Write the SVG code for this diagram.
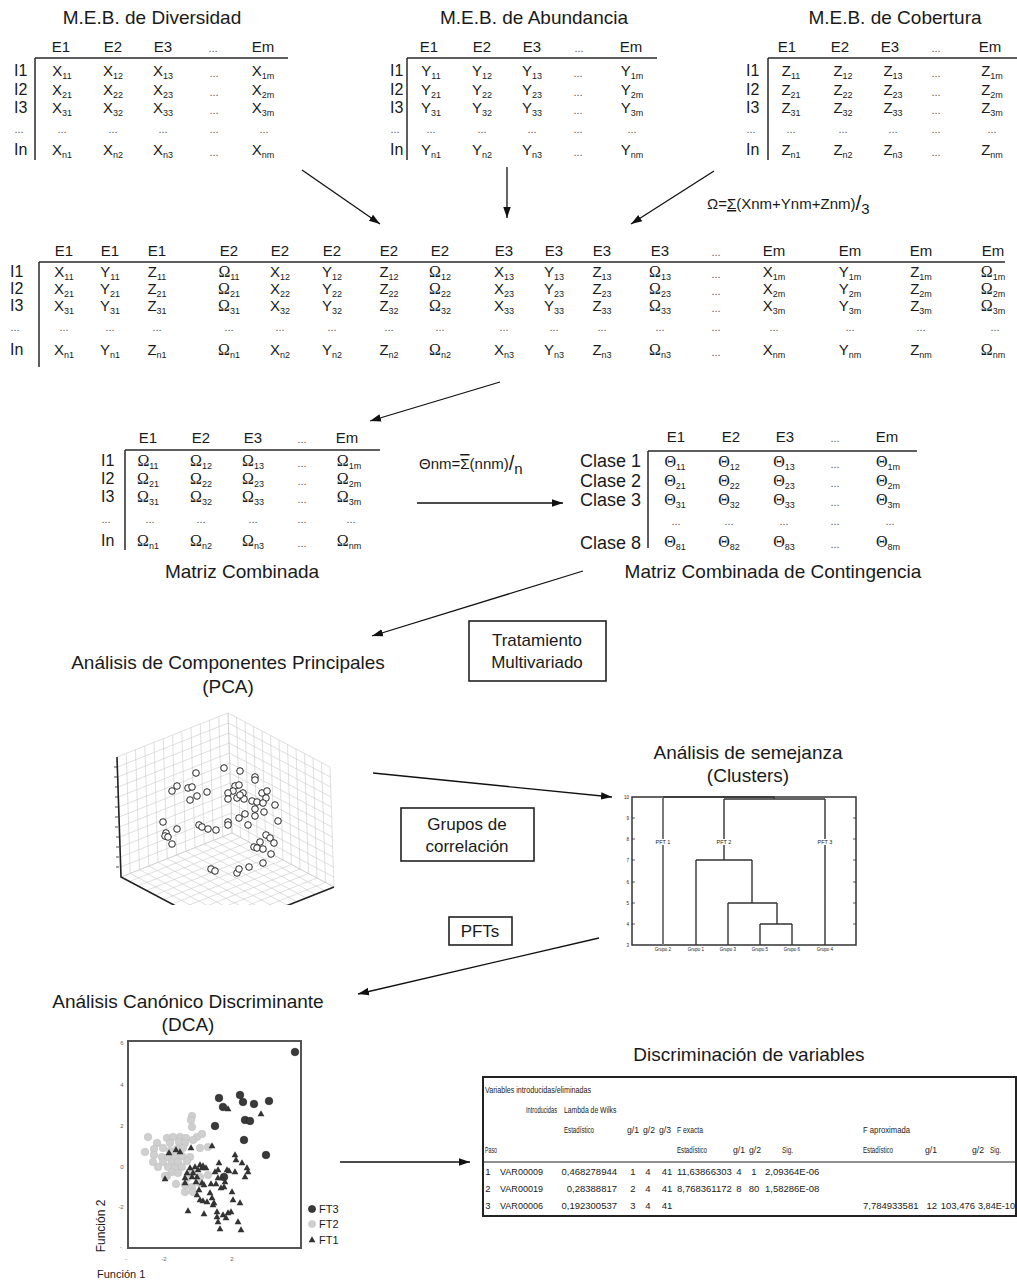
<svg xmlns="http://www.w3.org/2000/svg" width="1017" height="1283" viewBox="0 0 1017 1283">
<style>
text { font-family: "Liberation Sans", Arial, sans-serif; fill: #1a1a1a; }
.ttl { font-size: 19px; text-anchor: middle; }
.hd { font-size: 15px; text-anchor: middle; }
.rl { font-size: 16px; }
.c { font-size: 15px; text-anchor: middle; }
.g { font-family: "Liberation Serif", "Times New Roman", serif; font-size: 16px; text-anchor: middle; }
.s { font-family: "Liberation Sans", Arial, sans-serif; font-size: 9px; }
.dt { font-size: 11px; fill: #555; text-anchor: middle; }
.cl { font-size: 18px; text-anchor: end; }
.ln { stroke: #2a2a2a; stroke-width: 1.5; fill: none; }
.ar { stroke: #111; stroke-width: 1.3; fill: none; marker-end: url(#ah); }
.box { fill: #fff; stroke: #222; stroke-width: 1.6; }
.bx { font-size: 17px; text-anchor: middle; }
.pc { fill: #fff; stroke: #111; stroke-width: 0.9; }
.f2 { fill: #cfcfcf; stroke: #bcbcbc; stroke-width: 0.5; }
.f3 { fill: #3a3a3a; stroke: #1e1e1e; stroke-width: 0.6; }
.f1 { fill: #333; }
.dg { stroke: #333; stroke-width: 1.4; fill: none; }
.tk { font-size: 4.5px; fill: #777; }
.tb { font-size: 9.5px; fill: #222; }
.tbl { font-size: 9.5px; fill: #222; }
.ax { font-size: 6px; fill: #666; text-anchor: middle; }
</style>
<defs>
<marker id="ah" viewBox="0 0 10 10" refX="10" refY="5" markerWidth="11" markerHeight="11" markerUnits="userSpaceOnUse" orient="auto">
<path d="M0,1.6 L10,5 L0,8.4 z" fill="#111"/>
</marker>
<path id="grid" vector-effect="non-scaling-stroke" stroke-width="0.6" fill="none" d="M0,0H1M0,.0833H1M0,.1667H1M0,.25H1M0,.3333H1M0,.4167H1M0,.5H1M0,.5833H1M0,.6667H1M0,.75H1M0,.8333H1M0,.9167H1M0,1H1M0,0V1M.0833,0V1M.1667,0V1M.25,0V1M.3333,0V1M.4167,0V1M.5,0V1M.5833,0V1M.6667,0V1M.75,0V1M.8333,0V1M.9167,0V1M1,0V1"/>
<path id="tri" d="M0,-3.8 L3.4,2.3 L-3.4,2.3 z"/>
<clipPath id="cubeclip"><rect x="95" y="700" width="265" height="205"/></clipPath>
</defs>

<!-- Diversity matrix -->
<g id="meb-diversidad">
<text class="ttl" x="152" y="24">M.E.B. de Diversidad</text>
<text class="hd" x="61" y="52">E1</text><text class="hd" x="113" y="52">E2</text><text class="hd" x="163" y="52">E3</text><text class="dt" x="213" y="52">...</text><text class="hd" x="263" y="52">Em</text>
<path class="ln" d="M35,58H288M35,58V160"/>
<text class="rl" x="14" y="76">I1</text><text class="rl" x="14" y="95">I2</text><text class="rl" x="14" y="113">I3</text><text class="dt" x="19" y="133">...</text><text class="rl" x="14" y="155">In</text>
<text class="c" x="62" y="76">X<tspan class="s" dy="3">11</tspan></text><text class="c" x="113" y="76">X<tspan class="s" dy="3">12</tspan></text><text class="c" x="163" y="76">X<tspan class="s" dy="3">13</tspan></text><text class="dt" x="214" y="77">...</text><text class="c" x="263" y="76">X<tspan class="s" dy="3">1m</tspan></text>
<text class="c" x="62" y="95">X<tspan class="s" dy="3">21</tspan></text><text class="c" x="113" y="95">X<tspan class="s" dy="3">22</tspan></text><text class="c" x="163" y="95">X<tspan class="s" dy="3">23</tspan></text><text class="dt" x="214" y="96">...</text><text class="c" x="263" y="95">X<tspan class="s" dy="3">2m</tspan></text>
<text class="c" x="62" y="113">X<tspan class="s" dy="3">31</tspan></text><text class="c" x="113" y="113">X<tspan class="s" dy="3">32</tspan></text><text class="c" x="163" y="113">X<tspan class="s" dy="3">33</tspan></text><text class="dt" x="214" y="114">...</text><text class="c" x="263" y="113">X<tspan class="s" dy="3">3m</tspan></text>
<text class="dt" x="62" y="133">...</text><text class="dt" x="113" y="133">...</text><text class="dt" x="163" y="133">...</text><text class="dt" x="214" y="133">...</text><text class="dt" x="264" y="133">...</text>
<text class="c" x="62" y="155">X<tspan class="s" dy="3">n1</tspan></text><text class="c" x="113" y="155">X<tspan class="s" dy="3">n2</tspan></text><text class="c" x="163" y="155">X<tspan class="s" dy="3">n3</tspan></text><text class="dt" x="214" y="156">...</text><text class="c" x="263" y="155">X<tspan class="s" dy="3">nm</tspan></text>
</g>

<!-- Abundance matrix -->
<g id="meb-abundancia">
<text class="ttl" x="534" y="24">M.E.B. de Abundancia</text>
<text class="hd" x="429" y="52">E1</text><text class="hd" x="482" y="52">E2</text><text class="hd" x="532" y="52">E3</text><text class="dt" x="579" y="52">...</text><text class="hd" x="631" y="52">Em</text>
<path class="ln" d="M407,58H657M407,58V160"/>
<text class="rl" x="390" y="76">I1</text><text class="rl" x="390" y="95">I2</text><text class="rl" x="390" y="113">I3</text><text class="dt" x="395" y="133">...</text><text class="rl" x="390" y="155">In</text>
<text class="c" x="431" y="76">Y<tspan class="s" dy="3">11</tspan></text><text class="c" x="482" y="76">Y<tspan class="s" dy="3">12</tspan></text><text class="c" x="532" y="76">Y<tspan class="s" dy="3">13</tspan></text><text class="dt" x="578" y="77">...</text><text class="c" x="632" y="76">Y<tspan class="s" dy="3">1m</tspan></text>
<text class="c" x="431" y="95">Y<tspan class="s" dy="3">21</tspan></text><text class="c" x="482" y="95">Y<tspan class="s" dy="3">22</tspan></text><text class="c" x="532" y="95">Y<tspan class="s" dy="3">23</tspan></text><text class="dt" x="578" y="96">...</text><text class="c" x="632" y="95">Y<tspan class="s" dy="3">2m</tspan></text>
<text class="c" x="431" y="113">Y<tspan class="s" dy="3">31</tspan></text><text class="c" x="482" y="113">Y<tspan class="s" dy="3">32</tspan></text><text class="c" x="532" y="113">Y<tspan class="s" dy="3">33</tspan></text><text class="dt" x="578" y="114">...</text><text class="c" x="632" y="113">Y<tspan class="s" dy="3">3m</tspan></text>
<text class="dt" x="431" y="133">...</text><text class="dt" x="482" y="133">...</text><text class="dt" x="532" y="133">...</text><text class="dt" x="578" y="133">...</text><text class="dt" x="632" y="133">...</text>
<text class="c" x="431" y="155">Y<tspan class="s" dy="3">n1</tspan></text><text class="c" x="482" y="155">Y<tspan class="s" dy="3">n2</tspan></text><text class="c" x="532" y="155">Y<tspan class="s" dy="3">n3</tspan></text><text class="dt" x="578" y="156">...</text><text class="c" x="632" y="155">Y<tspan class="s" dy="3">nm</tspan></text>
</g>

<!-- Cover matrix -->
<g id="meb-cobertura">
<text class="ttl" x="895" y="24">M.E.B. de Cobertura</text>
<text class="hd" x="787" y="52">E1</text><text class="hd" x="840" y="52">E2</text><text class="hd" x="890" y="52">E3</text><text class="dt" x="936" y="52">...</text><text class="hd" x="990" y="52">Em</text>
<path class="ln" d="M768,58H1017M768,58V160"/>
<text class="rl" x="746" y="76">I1</text><text class="rl" x="746" y="95">I2</text><text class="rl" x="746" y="113">I3</text><text class="dt" x="751" y="133">...</text><text class="rl" x="746" y="155">In</text>
<text class="c" x="791" y="76">Z<tspan class="s" dy="3">11</tspan></text><text class="c" x="843" y="76">Z<tspan class="s" dy="3">12</tspan></text><text class="c" x="893" y="76">Z<tspan class="s" dy="3">13</tspan></text><text class="dt" x="936" y="77">...</text><text class="c" x="992" y="76">Z<tspan class="s" dy="3">1m</tspan></text>
<text class="c" x="791" y="95">Z<tspan class="s" dy="3">21</tspan></text><text class="c" x="843" y="95">Z<tspan class="s" dy="3">22</tspan></text><text class="c" x="893" y="95">Z<tspan class="s" dy="3">23</tspan></text><text class="dt" x="936" y="96">...</text><text class="c" x="992" y="95">Z<tspan class="s" dy="3">2m</tspan></text>
<text class="c" x="791" y="113">Z<tspan class="s" dy="3">31</tspan></text><text class="c" x="843" y="113">Z<tspan class="s" dy="3">32</tspan></text><text class="c" x="893" y="113">Z<tspan class="s" dy="3">33</tspan></text><text class="dt" x="936" y="114">...</text><text class="c" x="992" y="113">Z<tspan class="s" dy="3">3m</tspan></text>
<text class="dt" x="791" y="133">...</text><text class="dt" x="843" y="133">...</text><text class="dt" x="893" y="133">...</text><text class="dt" x="936" y="133">...</text><text class="dt" x="992" y="133">...</text>
<text class="c" x="791" y="155">Z<tspan class="s" dy="3">n1</tspan></text><text class="c" x="843" y="155">Z<tspan class="s" dy="3">n2</tspan></text><text class="c" x="893" y="155">Z<tspan class="s" dy="3">n3</tspan></text><text class="dt" x="936" y="156">...</text><text class="c" x="992" y="155">Z<tspan class="s" dy="3">nm</tspan></text>
</g>

<!-- Averaging formula -->
<g id="formula-omega">
<text x="707" y="209" font-size="15">Ω=<tspan text-decoration="underline">Σ</tspan>(Xnm+Ynm+Znm)<tspan font-size="21" dy="1">/</tspan><tspan dy="4">3</tspan></text>
</g>

<!-- Joined matrix -->
<g id="matriz-unida">
<text class="hd" x="64" y="256">E1</text><text class="hd" x="110" y="256">E1</text><text class="hd" x="157" y="256">E1</text>
<text class="hd" x="229" y="256">E2</text><text class="hd" x="280" y="256">E2</text><text class="hd" x="332" y="256">E2</text><text class="hd" x="389" y="256">E2</text><text class="hd" x="440" y="256">E2</text>
<text class="hd" x="504" y="256">E3</text><text class="hd" x="554" y="256">E3</text><text class="hd" x="602" y="256">E3</text><text class="hd" x="660" y="256">E3</text>
<text class="dt" x="716" y="256">...</text>
<text class="hd" x="774" y="256">Em</text><text class="hd" x="850" y="256">Em</text><text class="hd" x="921" y="256">Em</text><text class="hd" x="993" y="256">Em</text>
<path class="ln" d="M39,262H1005M39,262V367"/>
<text class="rl" x="10" y="277">I1</text><text class="rl" x="10" y="294">I2</text><text class="rl" x="10" y="311">I3</text><text class="dt" x="15" y="331">...</text><text class="rl" x="10" y="355">In</text>
<!-- row 1 -->
<text class="c" x="64" y="277">X<tspan class="s" dy="3">11</tspan></text><text class="c" x="110" y="277">Y<tspan class="s" dy="3">11</tspan></text><text class="c" x="157" y="277">Z<tspan class="s" dy="3">11</tspan></text><text class="g" x="229" y="277">Ω<tspan class="s" dy="3">11</tspan></text>
<text class="c" x="280" y="277">X<tspan class="s" dy="3">12</tspan></text><text class="c" x="332" y="277">Y<tspan class="s" dy="3">12</tspan></text><text class="c" x="389" y="277">Z<tspan class="s" dy="3">12</tspan></text><text class="g" x="440" y="277">Ω<tspan class="s" dy="3">12</tspan></text>
<text class="c" x="504" y="277">X<tspan class="s" dy="3">13</tspan></text><text class="c" x="554" y="277">Y<tspan class="s" dy="3">13</tspan></text><text class="c" x="602" y="277">Z<tspan class="s" dy="3">13</tspan></text><text class="g" x="660" y="277">Ω<tspan class="s" dy="3">13</tspan></text>
<text class="dt" x="716" y="278">...</text>
<text class="c" x="774" y="277">X<tspan class="s" dy="3">1m</tspan></text><text class="c" x="850" y="277">Y<tspan class="s" dy="3">1m</tspan></text><text class="c" x="921" y="277">Z<tspan class="s" dy="3">1m</tspan></text><text class="g" x="993" y="277">Ω<tspan class="s" dy="3">1m</tspan></text>
<!-- row 2 -->
<text class="c" x="64" y="294">X<tspan class="s" dy="3">21</tspan></text><text class="c" x="110" y="294">Y<tspan class="s" dy="3">21</tspan></text><text class="c" x="157" y="294">Z<tspan class="s" dy="3">21</tspan></text><text class="g" x="229" y="294">Ω<tspan class="s" dy="3">21</tspan></text>
<text class="c" x="280" y="294">X<tspan class="s" dy="3">22</tspan></text><text class="c" x="332" y="294">Y<tspan class="s" dy="3">22</tspan></text><text class="c" x="389" y="294">Z<tspan class="s" dy="3">22</tspan></text><text class="g" x="440" y="294">Ω<tspan class="s" dy="3">22</tspan></text>
<text class="c" x="504" y="294">X<tspan class="s" dy="3">23</tspan></text><text class="c" x="554" y="294">Y<tspan class="s" dy="3">23</tspan></text><text class="c" x="602" y="294">Z<tspan class="s" dy="3">23</tspan></text><text class="g" x="660" y="294">Ω<tspan class="s" dy="3">23</tspan></text>
<text class="dt" x="716" y="295">...</text>
<text class="c" x="774" y="294">X<tspan class="s" dy="3">2m</tspan></text><text class="c" x="850" y="294">Y<tspan class="s" dy="3">2m</tspan></text><text class="c" x="921" y="294">Z<tspan class="s" dy="3">2m</tspan></text><text class="g" x="993" y="294">Ω<tspan class="s" dy="3">2m</tspan></text>
<!-- row 3 -->
<text class="c" x="64" y="311">X<tspan class="s" dy="3">31</tspan></text><text class="c" x="110" y="311">Y<tspan class="s" dy="3">31</tspan></text><text class="c" x="157" y="311">Z<tspan class="s" dy="3">31</tspan></text><text class="g" x="229" y="311">Ω<tspan class="s" dy="3">31</tspan></text>
<text class="c" x="280" y="311">X<tspan class="s" dy="3">32</tspan></text><text class="c" x="332" y="311">Y<tspan class="s" dy="3">32</tspan></text><text class="c" x="389" y="311">Z<tspan class="s" dy="3">32</tspan></text><text class="g" x="440" y="311">Ω<tspan class="s" dy="3">32</tspan></text>
<text class="c" x="504" y="311">X<tspan class="s" dy="3">33</tspan></text><text class="c" x="554" y="311">Y<tspan class="s" dy="3">33</tspan></text><text class="c" x="602" y="311">Z<tspan class="s" dy="3">33</tspan></text><text class="g" x="660" y="311">Ω<tspan class="s" dy="3">33</tspan></text>
<text class="dt" x="716" y="312">...</text>
<text class="c" x="774" y="311">X<tspan class="s" dy="3">3m</tspan></text><text class="c" x="850" y="311">Y<tspan class="s" dy="3">3m</tspan></text><text class="c" x="921" y="311">Z<tspan class="s" dy="3">3m</tspan></text><text class="g" x="993" y="311">Ω<tspan class="s" dy="3">3m</tspan></text>
<!-- ellipsis row -->
<text class="dt" x="64" y="331">...</text><text class="dt" x="110" y="331">...</text><text class="dt" x="157" y="331">...</text><text class="dt" x="229" y="331">...</text><text class="dt" x="280" y="331">...</text><text class="dt" x="332" y="331">...</text><text class="dt" x="389" y="331">...</text><text class="dt" x="440" y="331">...</text><text class="dt" x="504" y="331">...</text><text class="dt" x="554" y="331">...</text><text class="dt" x="602" y="331">...</text><text class="dt" x="660" y="331">...</text><text class="dt" x="716" y="331">...</text><text class="dt" x="774" y="331">...</text><text class="dt" x="850" y="331">...</text><text class="dt" x="921" y="331">...</text><text class="dt" x="995" y="331">...</text>
<!-- row n -->
<text class="c" x="64" y="355">X<tspan class="s" dy="3">n1</tspan></text><text class="c" x="110" y="355">Y<tspan class="s" dy="3">n1</tspan></text><text class="c" x="157" y="355">Z<tspan class="s" dy="3">n1</tspan></text><text class="g" x="229" y="355">Ω<tspan class="s" dy="3">n1</tspan></text>
<text class="c" x="280" y="355">X<tspan class="s" dy="3">n2</tspan></text><text class="c" x="332" y="355">Y<tspan class="s" dy="3">n2</tspan></text><text class="c" x="389" y="355">Z<tspan class="s" dy="3">n2</tspan></text><text class="g" x="440" y="355">Ω<tspan class="s" dy="3">n2</tspan></text>
<text class="c" x="504" y="355">X<tspan class="s" dy="3">n3</tspan></text><text class="c" x="554" y="355">Y<tspan class="s" dy="3">n3</tspan></text><text class="c" x="602" y="355">Z<tspan class="s" dy="3">n3</tspan></text><text class="g" x="660" y="355">Ω<tspan class="s" dy="3">n3</tspan></text>
<text class="dt" x="716" y="356">...</text>
<text class="c" x="774" y="355">X<tspan class="s" dy="3">nm</tspan></text><text class="c" x="850" y="355">Y<tspan class="s" dy="3">nm</tspan></text><text class="c" x="921" y="355">Z<tspan class="s" dy="3">nm</tspan></text><text class="g" x="993" y="355">Ω<tspan class="s" dy="3">nm</tspan></text>
</g>

<!-- Combined matrix -->
<g id="matriz-combinada">
<text class="hd" x="148" y="443">E1</text><text class="hd" x="201" y="443">E2</text><text class="hd" x="253" y="443">E3</text><text class="dt" x="302" y="443">...</text><text class="hd" x="347" y="443">Em</text>
<path class="ln" d="M125,450H380M125,450V550"/>
<text class="rl" x="101" y="466">I1</text><text class="rl" x="101" y="484">I2</text><text class="rl" x="101" y="502">I3</text><text class="dt" x="106" y="523">...</text><text class="rl" x="101" y="546">In</text>
<text class="g" x="148" y="466">Ω<tspan class="s" dy="3">11</tspan></text><text class="g" x="201" y="466">Ω<tspan class="s" dy="3">12</tspan></text><text class="g" x="253" y="466">Ω<tspan class="s" dy="3">13</tspan></text><text class="dt" x="302" y="467">...</text><text class="g" x="349" y="466">Ω<tspan class="s" dy="3">1m</tspan></text>
<text class="g" x="148" y="484">Ω<tspan class="s" dy="3">21</tspan></text><text class="g" x="201" y="484">Ω<tspan class="s" dy="3">22</tspan></text><text class="g" x="253" y="484">Ω<tspan class="s" dy="3">23</tspan></text><text class="dt" x="302" y="485">...</text><text class="g" x="349" y="484">Ω<tspan class="s" dy="3">2m</tspan></text>
<text class="g" x="148" y="502">Ω<tspan class="s" dy="3">31</tspan></text><text class="g" x="201" y="502">Ω<tspan class="s" dy="3">32</tspan></text><text class="g" x="253" y="502">Ω<tspan class="s" dy="3">33</tspan></text><text class="dt" x="302" y="503">...</text><text class="g" x="349" y="502">Ω<tspan class="s" dy="3">3m</tspan></text>
<text class="dt" x="150" y="523">...</text><text class="dt" x="201" y="523">...</text><text class="dt" x="253" y="523">...</text><text class="dt" x="302" y="523">...</text><text class="dt" x="351" y="523">...</text>
<text class="g" x="148" y="546">Ω<tspan class="s" dy="3">n1</tspan></text><text class="g" x="201" y="546">Ω<tspan class="s" dy="3">n2</tspan></text><text class="g" x="253" y="546">Ω<tspan class="s" dy="3">n3</tspan></text><text class="dt" x="302" y="547">...</text><text class="g" x="349" y="546">Ω<tspan class="s" dy="3">nm</tspan></text>
<text class="ttl" x="242" y="578">Matriz Combinada</text>
</g>

<!-- Class averaging formula -->
<g id="formula-theta">
<text x="419" y="469" font-size="15">Θnm=<tspan text-decoration="overline">Σ</tspan>(nnm)<tspan font-size="20" dy="1">/</tspan><tspan dy="4">n</tspan></text>
</g>

<!-- Contingency matrix -->
<g id="matriz-contingencia">
<text class="hd" x="676" y="442">E1</text><text class="hd" x="731" y="442">E2</text><text class="hd" x="785" y="442">E3</text><text class="dt" x="835" y="442">...</text><text class="hd" x="887" y="442">Em</text>
<path class="ln" d="M648,451H917M648,451V548"/>
<text class="cl" x="641" y="467">Clase 1</text><text class="cl" x="641" y="487">Clase 2</text><text class="cl" x="641" y="506">Clase 3</text><text class="cl" x="641" y="549">Clase 8</text>
<text class="g" x="675" y="467">Θ<tspan class="s" dy="3">11</tspan></text><text class="g" x="729" y="467">Θ<tspan class="s" dy="3">12</tspan></text><text class="g" x="784" y="467">Θ<tspan class="s" dy="3">13</tspan></text><text class="dt" x="835" y="468">...</text><text class="g" x="888" y="467">Θ<tspan class="s" dy="3">1m</tspan></text>
<text class="g" x="675" y="486">Θ<tspan class="s" dy="3">21</tspan></text><text class="g" x="729" y="486">Θ<tspan class="s" dy="3">22</tspan></text><text class="g" x="784" y="486">Θ<tspan class="s" dy="3">23</tspan></text><text class="dt" x="835" y="487">...</text><text class="g" x="888" y="486">Θ<tspan class="s" dy="3">2m</tspan></text>
<text class="g" x="675" y="505">Θ<tspan class="s" dy="3">31</tspan></text><text class="g" x="729" y="505">Θ<tspan class="s" dy="3">32</tspan></text><text class="g" x="784" y="505">Θ<tspan class="s" dy="3">33</tspan></text><text class="dt" x="835" y="506">...</text><text class="g" x="888" y="505">Θ<tspan class="s" dy="3">3m</tspan></text>
<text class="dt" x="676" y="525">...</text><text class="dt" x="729" y="525">...</text><text class="dt" x="784" y="525">...</text><text class="dt" x="835" y="525">...</text><text class="dt" x="890" y="525">...</text>
<text class="g" x="675" y="547">Θ<tspan class="s" dy="3">81</tspan></text><text class="g" x="729" y="547">Θ<tspan class="s" dy="3">82</tspan></text><text class="g" x="784" y="547">Θ<tspan class="s" dy="3">83</tspan></text><text class="dt" x="835" y="548">...</text><text class="g" x="888" y="547">Θ<tspan class="s" dy="3">8m</tspan></text>
<text class="ttl" x="773" y="578">Matriz Combinada de Contingencia</text>
</g>

<!-- Process labels -->
<g id="tratamiento">
<rect class="box" x="469" y="621" width="137" height="60"/>
<text class="bx" x="537" y="646">Tratamiento</text>
<text class="bx" x="537" y="668">Multivariado</text>
</g>
<g id="grupos-correlacion">
<rect class="box" x="401" y="808" width="133" height="53"/>
<text class="bx" x="467" y="830">Grupos de</text>
<text class="bx" x="467" y="852">correlación</text>
</g>
<g id="pfts">
<rect class="box" x="449" y="917" width="63" height="28"/>
<text class="bx" x="480" y="937" font-size="15">PFTs</text>
</g>

<!-- PCA -->
<g id="pca">
<text class="ttl" x="228" y="669">Análisis de Componentes Principales</text>
<text class="ttl" x="228" y="693">(PCA)</text>
<g clip-path="url(#cubeclip)">
<g stroke="#c9c9c9">
<use href="#grid" transform="matrix(111,-44,4,120,117,757)"/>
<use href="#grid" transform="matrix(102,54,4,120,228,713)"/>
<use href="#grid" transform="matrix(-111,44,102,54,232,833)"/>
</g>
<path d="M117,757L121,877L223,931M334,887L223,931" stroke="#222" stroke-width="1.6" fill="none"/>
<path d="M114,767h3M114,777h3M115,787h3M115,797h3M115,807h3M115,817h3M115,827h3M116,837h3M116,847h3M116,857h3M116,867h3" stroke="#222" stroke-width="0.8"/>
</g>
<g class="pc">
<circle cx="196" cy="773" r="3.3"/><circle cx="224" cy="768" r="3.3"/><circle cx="240" cy="771" r="3.3"/><circle cx="255" cy="777" r="3.3"/><circle cx="255" cy="780" r="3.3"/>
<circle cx="177" cy="786" r="3.3"/><circle cx="172" cy="791" r="3.3"/><circle cx="188" cy="788" r="3.3"/><circle cx="192" cy="787" r="3.3"/><circle cx="197" cy="796" r="3.3"/>
<circle cx="190" cy="800" r="3.3"/><circle cx="207" cy="792" r="3.3"/><circle cx="235" cy="786" r="3.3"/><circle cx="239" cy="785" r="3.3"/><circle cx="233" cy="791" r="3.3"/>
<circle cx="228" cy="793" r="3.3"/><circle cx="228" cy="799" r="3.3"/><circle cx="237" cy="798" r="3.3"/><circle cx="243" cy="793" r="3.3"/><circle cx="244" cy="799" r="3.3"/>
<circle cx="240" cy="795" r="3.3"/><circle cx="252" cy="801" r="3.3"/><circle cx="257" cy="802" r="3.3"/><circle cx="262" cy="793" r="3.3"/><circle cx="267" cy="791" r="3.3"/>
<circle cx="266" cy="798" r="3.3"/><circle cx="263" cy="803" r="3.3"/><circle cx="275" cy="805" r="3.3"/><circle cx="255" cy="809" r="3.3"/><circle cx="255" cy="816" r="3.3"/>
<circle cx="264" cy="812" r="3.3"/><circle cx="245" cy="814" r="3.3"/><circle cx="239" cy="818" r="3.3"/><circle cx="228" cy="822" r="3.3"/><circle cx="228" cy="825" r="3.3"/>
<circle cx="248" cy="825" r="3.3"/><circle cx="278" cy="821" r="3.3"/><circle cx="163" cy="822" r="3.3"/><circle cx="177" cy="829" r="3.3"/><circle cx="166" cy="833" r="3.3"/>
<circle cx="165" cy="836" r="3.3"/><circle cx="168" cy="837" r="3.3"/><circle cx="172" cy="844" r="3.3"/><circle cx="199" cy="825" r="3.3"/><circle cx="202" cy="827" r="3.3"/>
<circle cx="208" cy="829" r="3.3"/><circle cx="216" cy="830" r="3.3"/><circle cx="266" cy="835" r="3.3"/><circle cx="270" cy="838" r="3.3"/><circle cx="260" cy="842" r="3.3"/>
<circle cx="254" cy="847" r="3.3"/><circle cx="257" cy="848" r="3.3"/><circle cx="263" cy="849" r="3.3"/><circle cx="274" cy="843" r="3.3"/><circle cx="271" cy="854" r="3.3"/>
<circle cx="263" cy="863" r="3.3"/><circle cx="211" cy="869" r="3.3"/><circle cx="215" cy="871" r="3.3"/><circle cx="237" cy="873" r="3.3"/><circle cx="239" cy="869" r="3.3"/>
<circle cx="249" cy="867" r="3.3"/>
</g>
</g>

<!-- Cluster dendrogram -->
<g id="clusters">
<text class="ttl" x="748" y="759">Análisis de semejanza</text>
<text class="ttl" x="748" y="782">(Clusters)</text>
<rect x="632" y="797" width="224" height="148" fill="none" stroke="#333" stroke-width="1.5"/>
<path d="M632,818h3M632,839h3M632,860h3M632,882h3M632,903h3M632,924h3M856,818h-3M856,839h-3M856,860h-3M856,882h-3M856,903h-3M856,924h-3" stroke="#333" stroke-width="0.8"/>
<g class="tk" text-anchor="end">
<text x="629" y="799">10</text><text x="629" y="820">9</text><text x="629" y="841">8</text><text x="629" y="862">7</text><text x="629" y="884">6</text><text x="629" y="905">5</text><text x="629" y="926">4</text><text x="629" y="947">3</text>
</g>
<path d="M663,797V945" stroke="#7a7a7a" stroke-width="2" fill="none"/>
<path class="dg" d="M663,797H774V799M724,799H825M724,799V860M825,799V945M696,860H752M696,860V945M752,860V903M728,903H777M728,903V945M777,903V924M760,924H792M760,924V945M792,924V945"/>
<g font-size="5.5px" text-anchor="middle">
<rect x="654" y="839" width="18" height="6" fill="#fff"/><text x="663" y="844" fill="#555">PFT 1</text>
<rect x="715" y="839" width="18" height="6" fill="#fff"/><text x="724" y="844" fill="#555">PFT 2</text>
<rect x="816" y="839" width="18" height="6" fill="#fff"/><text x="825" y="844" fill="#555">PFT 3</text>
</g>
<g class="tk" text-anchor="middle">
<text x="663" y="951">Grupo 2</text><text x="696" y="951">Grupo 1</text><text x="728" y="951">Grupo 3</text><text x="760" y="951">Grupo 5</text><text x="792" y="951">Grupo 6</text><text x="825" y="951">Grupo 4</text>
</g>
</g>

<!-- Discriminant analysis -->
<g id="dca">
<text class="ttl" x="188" y="1008">Análisis Canónico Discriminante</text>
<text class="ttl" x="188" y="1031">(DCA)</text>
<rect x="128" y="1041" width="173" height="207" fill="none" stroke="#555" stroke-width="2"/>
<text class="ax" x="122" y="1045">6</text><text class="ax" x="122" y="1087">4</text><text class="ax" x="122" y="1128">2</text><text class="ax" x="122" y="1169">0</text><text class="ax" x="121" y="1209">-2</text><text class="ax" x="121" y="1249">-</text>
<text class="ax" x="126" y="1261">-</text><text class="ax" x="164" y="1261">-2</text><text class="ax" x="232" y="1261">2</text>
<text x="105" y="1226" font-size="12" text-anchor="middle" transform="rotate(-90 105 1226)">Función 2</text>
<text x="97" y="1278" font-size="11">Función 1</text>
<g class="f2">
<circle cx="192" cy="1116" r="3.8"/><circle cx="191" cy="1120" r="3.8"/><circle cx="192" cy="1127" r="3.8"/><circle cx="148" cy="1137" r="3.8"/><circle cx="157" cy="1143" r="3.8"/>
<circle cx="167" cy="1138" r="3.8"/><circle cx="173" cy="1137" r="3.8"/><circle cx="180" cy="1137" r="3.8"/><circle cx="186" cy="1138" r="3.8"/><circle cx="197" cy="1137" r="3.8"/>
<circle cx="202" cy="1134" r="3.8"/><circle cx="170" cy="1143" r="3.8"/><circle cx="179" cy="1142" r="3.8"/><circle cx="185" cy="1143" r="3.8"/><circle cx="193" cy="1140" r="3.8"/>
<circle cx="145" cy="1152" r="3.8"/><circle cx="154" cy="1149" r="3.8"/><circle cx="163" cy="1148" r="3.8"/><circle cx="170" cy="1151" r="3.8"/><circle cx="177" cy="1149" r="3.8"/>
<circle cx="183" cy="1148" r="3.8"/><circle cx="200" cy="1148" r="3.8"/><circle cx="208" cy="1147" r="3.8"/><circle cx="154" cy="1155" r="3.8"/><circle cx="162" cy="1157" r="3.8"/>
<circle cx="168" cy="1157" r="3.8"/><circle cx="175" cy="1157" r="3.8"/><circle cx="182" cy="1156" r="3.8"/><circle cx="190" cy="1157" r="3.8"/><circle cx="153" cy="1162" r="3.8"/>
<circle cx="163" cy="1162" r="3.8"/><circle cx="172" cy="1162" r="3.8"/><circle cx="178" cy="1162" r="3.8"/><circle cx="187" cy="1161" r="3.8"/><circle cx="158" cy="1167" r="3.8"/>
<circle cx="168" cy="1167" r="3.8"/><circle cx="175" cy="1168" r="3.8"/><circle cx="182" cy="1167" r="3.8"/><circle cx="172" cy="1172" r="3.8"/><circle cx="178" cy="1173" r="3.8"/>
<circle cx="167" cy="1176" r="3.8"/><circle cx="192" cy="1173" r="3.8"/><circle cx="187" cy="1178" r="3.8"/><circle cx="208" cy="1175" r="3.8"/><circle cx="200" cy="1177" r="3.8"/>
<circle cx="176" cy="1184" r="3.8"/><circle cx="185" cy="1185" r="3.8"/><circle cx="185" cy="1192" r="3.8"/><circle cx="192" cy="1187" r="3.8"/><circle cx="200" cy="1183" r="3.8"/>
<circle cx="193" cy="1192" r="3.8"/><circle cx="165" cy="1176" r="3.8"/>
</g>
<g class="f3">
<circle cx="295" cy="1052" r="3.8"/><circle cx="219" cy="1098" r="3.8"/><circle cx="240" cy="1095" r="3.8"/><circle cx="223" cy="1107" r="3.8"/><circle cx="243" cy="1102" r="3.8"/>
<circle cx="254" cy="1104" r="3.8"/><circle cx="269" cy="1101" r="3.8"/><circle cx="245" cy="1120" r="3.8"/><circle cx="250" cy="1121" r="3.8"/><circle cx="215" cy="1126" r="3.8"/>
<circle cx="244" cy="1140" r="3.8"/><circle cx="266" cy="1155" r="3.8"/><circle cx="224" cy="1177" r="3.8"/>
</g>
<g class="f1">
<use href="#tri" x="169" y="1153"/><use href="#tri" x="176" y="1150"/><use href="#tri" x="180" y="1152"/><use href="#tri" x="191" y="1148"/><use href="#tri" x="212" y="1146"/>
<use href="#tri" x="228" y="1109"/><use href="#tri" x="261" y="1114"/><use href="#tri" x="165" y="1179"/><use href="#tri" x="188" y="1211"/><use href="#tri" x="204" y="1214"/>
<use href="#tri" x="185" y="1178"/><use href="#tri" x="185" y="1183"/><use href="#tri" x="187" y="1173"/><use href="#tri" x="190" y="1168"/><use href="#tri" x="192" y="1177"/>
<use href="#tri" x="193" y="1173"/><use href="#tri" x="195" y="1167"/><use href="#tri" x="197" y="1177"/><use href="#tri" x="198" y="1170"/><use href="#tri" x="200" y="1165"/>
<use href="#tri" x="202" y="1168"/><use href="#tri" x="203" y="1166"/><use href="#tri" x="206" y="1168"/><use href="#tri" x="196" y="1182"/><use href="#tri" x="197" y="1195"/>
<use href="#tri" x="199" y="1190"/><use href="#tri" x="202" y="1183"/><use href="#tri" x="204" y="1185"/><use href="#tri" x="200" y="1200"/><use href="#tri" x="203" y="1201"/>
<use href="#tri" x="207" y="1202"/><use href="#tri" x="210" y="1193"/><use href="#tri" x="211" y="1184"/><use href="#tri" x="212" y="1198"/><use href="#tri" x="213" y="1205"/>
<use href="#tri" x="214" y="1203"/><use href="#tri" x="216" y="1184"/><use href="#tri" x="215" y="1172"/><use href="#tri" x="217" y="1212"/><use href="#tri" x="217" y="1217"/>
<use href="#tri" x="218" y="1222"/><use href="#tri" x="219" y="1163"/><use href="#tri" x="220" y="1229"/><use href="#tri" x="222" y="1178"/><use href="#tri" x="223" y="1215"/>
<use href="#tri" x="224" y="1187"/><use href="#tri" x="221" y="1188"/><use href="#tri" x="218" y="1170"/><use href="#tri" x="227" y="1170"/><use href="#tri" x="229" y="1171"/>
<use href="#tri" x="232" y="1192"/><use href="#tri" x="233" y="1200"/><use href="#tri" x="235" y="1172"/><use href="#tri" x="235" y="1155"/><use href="#tri" x="236" y="1160"/>
<use href="#tri" x="240" y="1203"/><use href="#tri" x="242" y="1163"/><use href="#tri" x="238" y="1222"/><use href="#tri" x="241" y="1230"/><use href="#tri" x="231" y="1212"/>
<use href="#tri" x="226" y="1218"/><use href="#tri" x="245" y="1177"/><use href="#tri" x="247" y="1168"/><use href="#tri" x="248" y="1172"/><use href="#tri" x="218" y="1178"/>
<use href="#tri" x="225" y="1182"/><use href="#tri" x="228" y="1213"/>
</g>
<circle class="f3" cx="312" cy="1209" r="3.6"/><text x="319" y="1213" font-size="11">FT3</text>
<circle class="f2" cx="312" cy="1224" r="3.6"/><text x="319" y="1228" font-size="11">FT2</text>
<use class="f1" href="#tri" x="312" y="1240"/><text x="319" y="1244" font-size="11">FT1</text>
</g>

<!-- Variable discrimination table -->
<g id="tabla-discriminacion">
<text class="ttl" x="749" y="1061">Discriminación de variables</text>
<rect x="483" y="1077" width="533" height="139" fill="none" stroke="#222" stroke-width="2"/>
<path d="M483,1162H1016" stroke="#222" stroke-width="1.2"/>
<text class="tbl" x="485" y="1093" textLength="106" lengthAdjust="spacingAndGlyphs">Variables introducidas/eliminadas</text>
<text class="tbl" transform="translate(526,1113) scale(0.6,1)">Introducidas</text>
<text class="tbl" transform="translate(564,1113) scale(0.72,1)">Lambda de Wilks</text>
<text class="tbl" x="564" y="1133" textLength="30" lengthAdjust="spacingAndGlyphs">Estadístico</text>
<text class="tbl" x="627" y="1133" textLength="12" lengthAdjust="spacingAndGlyphs">g/1</text><text class="tbl" x="643" y="1133" textLength="12" lengthAdjust="spacingAndGlyphs">g/2</text><text class="tbl" x="659" y="1133" textLength="12" lengthAdjust="spacingAndGlyphs">g/3</text>
<text class="tbl" x="677" y="1133" textLength="26" lengthAdjust="spacingAndGlyphs">F exacta</text>
<text class="tbl" x="863" y="1133" textLength="47" lengthAdjust="spacingAndGlyphs">F aproximada</text>
<text class="tbl" x="485" y="1153" textLength="12" lengthAdjust="spacingAndGlyphs">Paso</text>
<text class="tbl" x="677" y="1153" textLength="30" lengthAdjust="spacingAndGlyphs">Estadístico</text>
<text class="tbl" x="733" y="1153" textLength="12" lengthAdjust="spacingAndGlyphs">g/1</text><text class="tbl" x="749" y="1153" textLength="12" lengthAdjust="spacingAndGlyphs">g/2</text>
<text class="tbl" x="782" y="1153" textLength="11" lengthAdjust="spacingAndGlyphs">Sig.</text>
<text class="tbl" x="863" y="1153" textLength="30" lengthAdjust="spacingAndGlyphs">Estadístico</text>
<text class="tbl" x="925" y="1153" textLength="12" lengthAdjust="spacingAndGlyphs">g/1</text><text class="tbl" x="972" y="1153" textLength="12" lengthAdjust="spacingAndGlyphs">g/2</text><text class="tbl" x="990" y="1153" textLength="11" lengthAdjust="spacingAndGlyphs">Sig.</text>
<g class="tb">
<text x="488" y="1175" text-anchor="middle">1</text><text x="500" y="1175" textLength="43" lengthAdjust="spacingAndGlyphs">VAR00009</text><text x="617" y="1175" text-anchor="end">0,468278944</text>
<text x="633" y="1175" text-anchor="middle">1</text><text x="648" y="1175" text-anchor="middle">4</text><text x="667" y="1175" text-anchor="middle">41</text>
<text x="677" y="1175">11,63866303</text><text x="739" y="1175" text-anchor="middle">4</text><text x="754" y="1175" text-anchor="middle">1</text><text x="765" y="1175">2,09364E-06</text>
<text x="488" y="1192" text-anchor="middle">2</text><text x="500" y="1192" textLength="43" lengthAdjust="spacingAndGlyphs">VAR00019</text><text x="617" y="1192" text-anchor="end">0,28388817</text>
<text x="633" y="1192" text-anchor="middle">2</text><text x="648" y="1192" text-anchor="middle">4</text><text x="667" y="1192" text-anchor="middle">41</text>
<text x="677" y="1192">8,768361172</text><text x="739" y="1192" text-anchor="middle">8</text><text x="754" y="1192" text-anchor="middle">80</text><text x="765" y="1192">1,58286E-08</text>
<text x="488" y="1209" text-anchor="middle">3</text><text x="500" y="1209" textLength="43" lengthAdjust="spacingAndGlyphs">VAR00006</text><text x="617" y="1209" text-anchor="end">0,192300537</text>
<text x="633" y="1209" text-anchor="middle">3</text><text x="648" y="1209" text-anchor="middle">4</text><text x="667" y="1209" text-anchor="middle">41</text>
<text x="863" y="1209">7,784933581</text><text x="937" y="1209" text-anchor="end">12</text><text x="975" y="1209" text-anchor="end">103,476</text><text x="978" y="1209" textLength="37" lengthAdjust="spacingAndGlyphs">3,84E-10</text>
</g>
</g>

<!-- Connectors -->
<g id="connectors">
<path class="ar" d="M302,170L380,224"/>
<path class="ar" d="M507,167V218"/>
<path class="ar" d="M714,171L631,224"/>
<path class="ar" d="M500,382L370,421"/>
<path class="ar" d="M417,503H563"/>
<path class="ar" d="M583,571L372,636"/>
<path class="ar" d="M373,773L612,797"/>
<path class="ar" d="M599,938L358,994"/>
<path class="ar" d="M340,1162H470"/>
</g>
</svg>
